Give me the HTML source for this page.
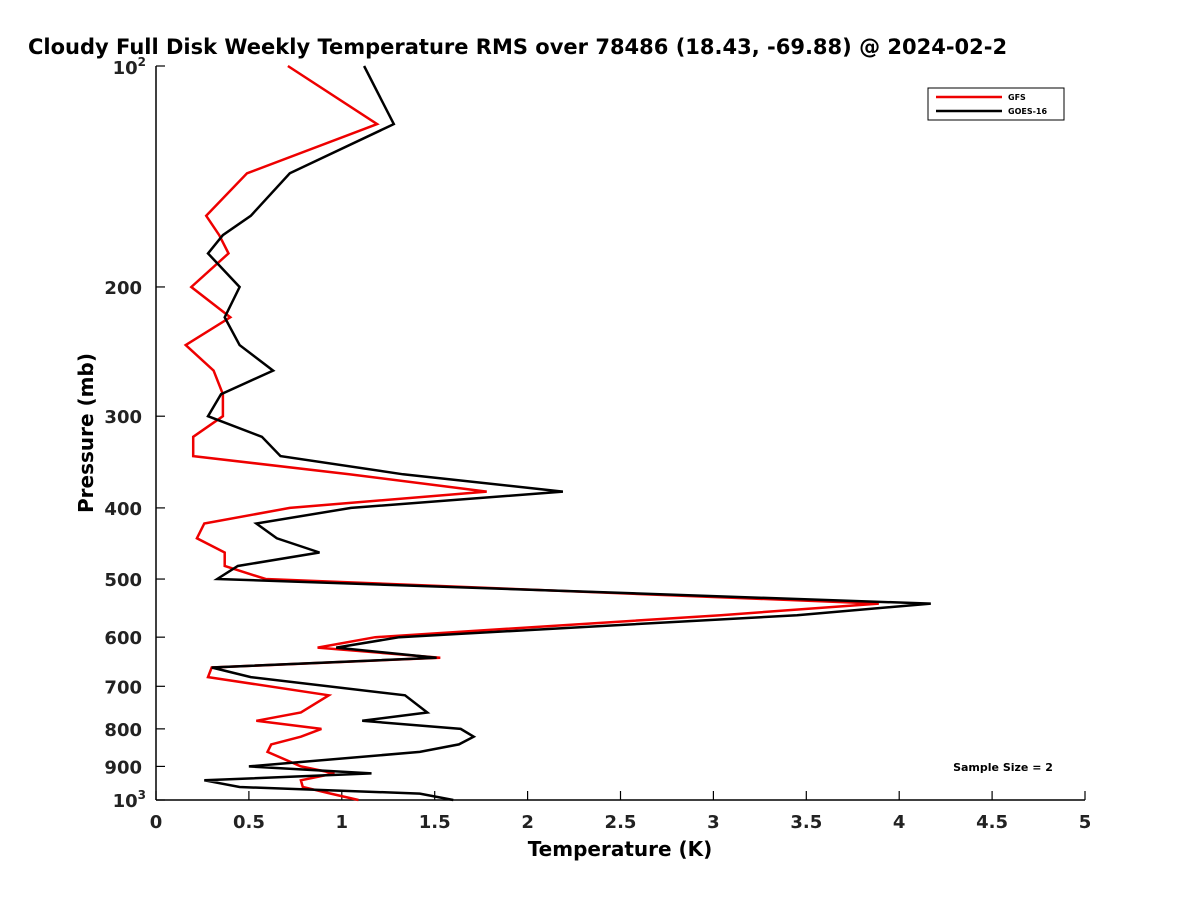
<!DOCTYPE html>
<html><head><meta charset="utf-8"><style>
body{margin:0;background:#fff;}
svg{display:block;font-family:"DejaVu Sans","Liberation Sans",sans-serif;}
</style></head><body>
<svg id="chart" width="1200" height="900">
<rect width="1200" height="900" fill="#fff"/>
<text x="28" y="54" font-size="21" font-weight="bold" fill="#000">Cloudy Full Disk Weekly Temperature RMS over 78486 (18.43, -69.88) @ 2024-02-2</text>
<g id="axes"></g>
<g id="series"></g>
<g>
<rect x="928" y="88" width="136" height="32" fill="#fff" stroke="#000" stroke-width="1"/>
<line x1="936" y1="97" x2="1002" y2="97" stroke="#e00" stroke-width="2.5"/>
<text x="1008" y="100" font-size="8" font-weight="bold">GFS</text>
<line x1="936" y1="111" x2="1002" y2="111" stroke="#000" stroke-width="2.5"/>
<text x="1008" y="114" font-size="8" font-weight="bold">GOES-16</text>
</g>
<text x="1003" y="771" font-size="11" font-weight="bold" text-anchor="middle">Sample Size = 2</text>
<text x="620" y="856" font-size="20" font-weight="bold" text-anchor="middle">Temperature (K)</text>
<text transform="translate(93,433) rotate(-90)" font-size="20" font-weight="bold" text-anchor="middle">Pressure (mb)</text>
</svg>
<script>
const pressures=[100,120,140,160,170,180,200,220,240,260,280,300,320,340,360,380,400,420,440,460,480,500,540,560,600,620,640,660,680,720,760,780,800,820,840,860,900,920,940,960,980,1000];
const gfsValues=[0.71,1.19,0.49,0.27,0.34,0.39,0.19,0.40,0.16,0.31,0.36,0.36,0.20,0.20,1.04,1.78,0.72,0.26,0.22,0.37,0.37,0.59,3.89,3.04,1.18,0.87,1.53,0.30,0.28,0.93,0.78,0.54,0.89,0.78,0.62,0.60,0.78,0.96,0.78,0.79,0.94,1.09];
const goesValues=[1.12,1.28,0.72,0.51,0.36,0.28,0.45,0.37,0.45,0.63,0.35,0.28,0.57,0.67,1.33,2.19,1.05,0.54,0.65,0.88,0.44,0.33,4.17,3.45,1.31,0.97,1.51,0.30,0.51,1.34,1.46,1.11,1.64,1.71,1.63,1.42,0.50,1.16,0.26,0.45,1.42,1.60];
const xTicks=[0,0.5,1,1.5,2,2.5,3,3.5,4,4.5,5];
const yTicks=[200,300,400,500,600,700,800,900];
const X0=156,X1=1085,Y0=66,Y1=800;
const xs=v=>X0+(v-0)/(5-0)*(X1-X0);
const ys=p=>Y0+(Math.log10(p)-2)*(Y1-Y0);
const NS="http://www.w3.org/2000/svg";
const axes=document.getElementById('axes'),series=document.getElementById('series');
function mk(t,a,parent){const e=document.createElementNS(NS,t);for(const k in a)e.setAttribute(k,a[k]);parent.appendChild(e);return e;}
const xl=mk('line',{x1:X0,y1:Y1,x2:X1,y2:Y1,stroke:'#000','stroke-width':1.5},axes);


const yl=mk('line',{x1:X0,y1:Y0,x2:X0,y2:Y1,stroke:'#000','stroke-width':1.5},axes);


xTicks.forEach(v=>{
 mk('line',{x1:xs(v),y1:Y1,x2:xs(v),y2:Y1-9,stroke:'#000','stroke-width':1.2},axes);
 const t=mk('text',{x:xs(v),y:Y1+28,'font-size':18,'font-weight':'bold','text-anchor':'middle',fill:'#222'},axes);
 t.textContent=String(v);
 
 
});
yTicks.forEach(p=>{
 mk('line',{x1:X0,y1:ys(p),x2:X0+9,y2:ys(p),stroke:'#000','stroke-width':1.2},axes);
 const t=mk('text',{x:X0-14,y:ys(p)+7,'font-size':18,'font-weight':'bold','text-anchor':'end',fill:'#222'},axes);
 t.textContent=String(p);
 
 
});
[[100,'2'],[1000,'3']].forEach(([p,e])=>{
 mk('line',{x1:X0,y1:ys(p),x2:X0+9,y2:ys(p),stroke:'#000','stroke-width':1.2},axes);
 const t=mk('text',{x:X0-10,y:ys(p)+(p==100?8:7),'font-size':18,'font-weight':'bold','text-anchor':'end',fill:'#222'},axes);
 t.innerHTML='10<tspan dy="-8" font-size="12">'+e+'</tspan>';
 
 
});
function line(vals,color,name){
 const d=vals.map((v,i)=>(i?'L':'M')+xs(v).toFixed(1)+','+ys(pressures[i]).toFixed(1)).join('');
 const p=mk('path',{d:d,fill:'none',stroke:color,'stroke-width':2.5,'stroke-linejoin':'miter'},series);
 
 
}
line(gfsValues,'#e00','gfs-line');
line(goesValues,'#000','goes16-line');
</script>
</body></html>
